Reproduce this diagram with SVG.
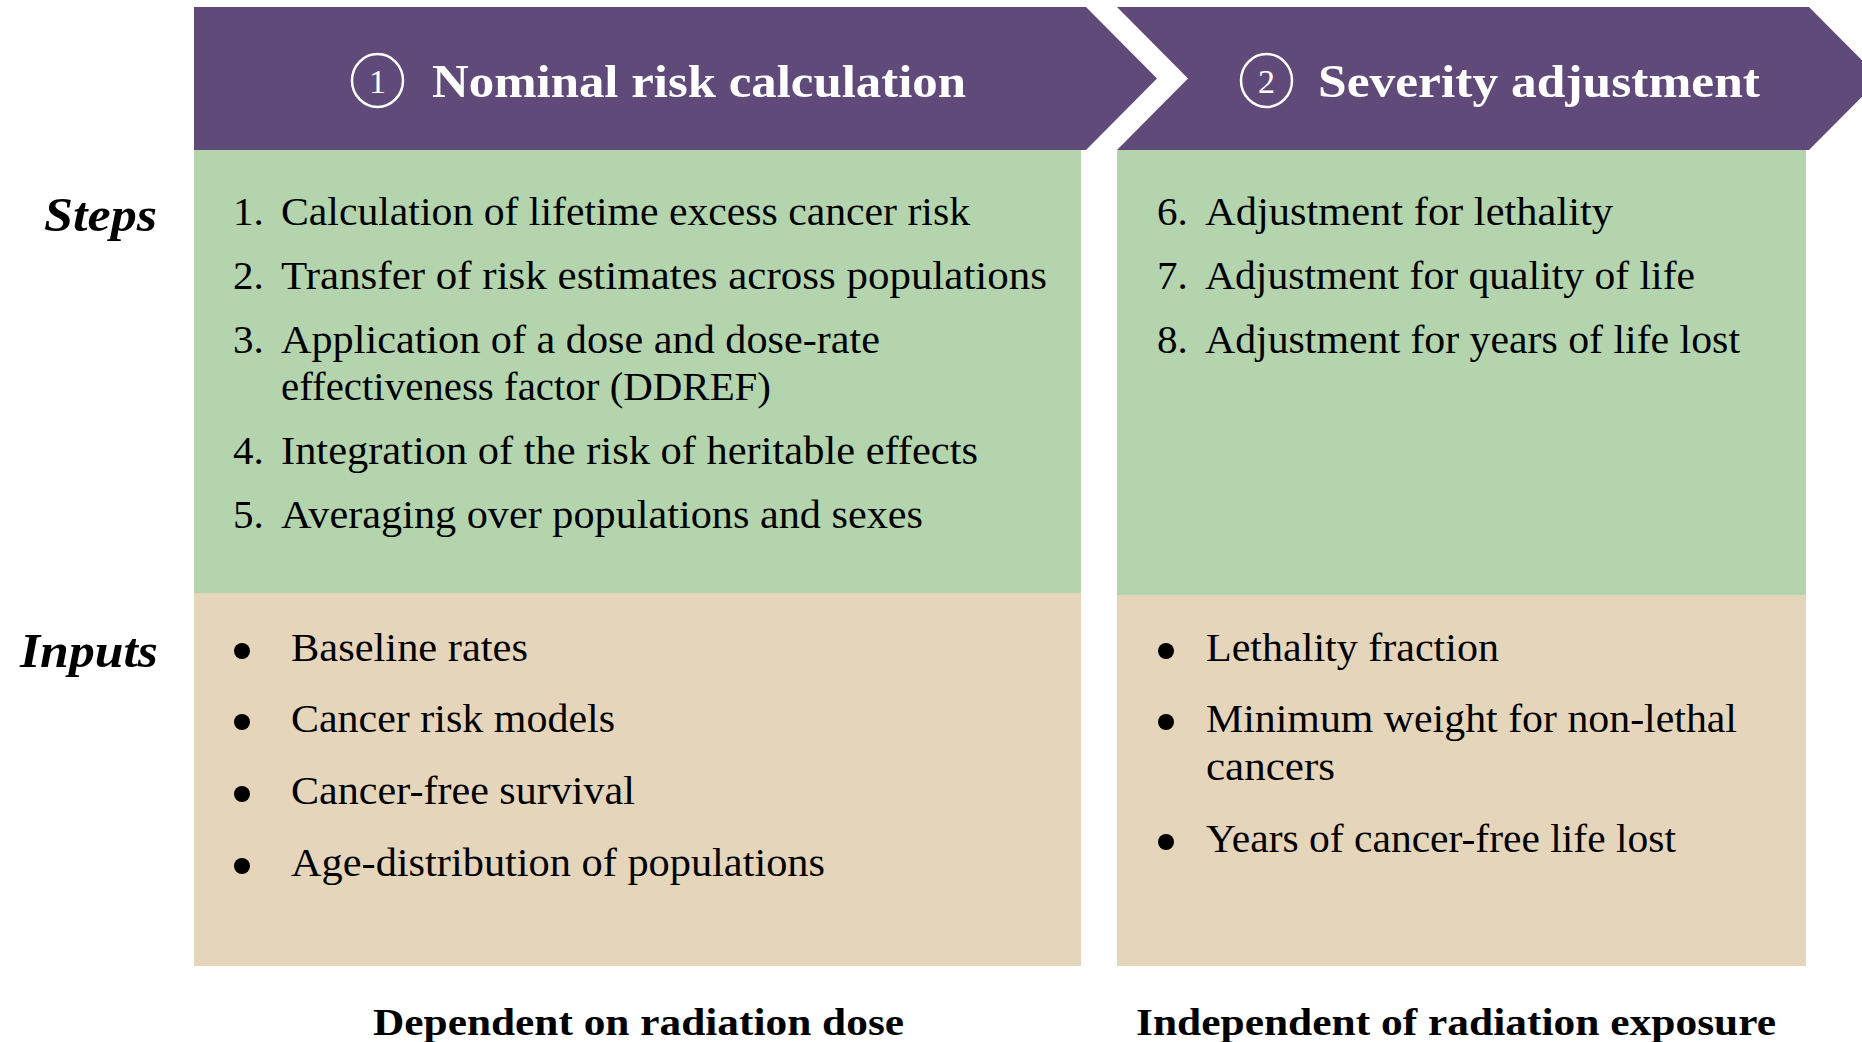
<svg xmlns="http://www.w3.org/2000/svg" width="1862" height="1042" viewBox="0 0 1862 1042">
  <style>
    .hdr { fill: #5F4A7A; }
    .steps { fill: #B3D4AD; }
    .inputs { fill: #E5D5BB; }
    .htxt { font-family: "Liberation Serif", "DejaVu Serif", serif; font-weight: bold; font-size: 46px; fill: #FFFFFF; }
    .hnum { font-family: "Liberation Serif", "DejaVu Serif", serif; font-size: 34px; fill: #FFFFFF; text-anchor: middle; }
    .ring { fill: none; stroke: #FFFFFF; stroke-width: 2.5; }
    .side { font-family: "Liberation Serif", "DejaVu Serif", serif; font-weight: bold; font-style: italic; font-size: 48px; fill: #000000; }
    .body { font-family: "Liberation Serif", "DejaVu Serif", serif; font-size: 41px; fill: #000000; }
    .item { font-family: "Liberation Serif", "DejaVu Serif", serif; font-size: 39px; fill: #000000; }
    .foot { font-family: "Liberation Serif", "DejaVu Serif", serif; font-weight: bold; font-size: 37px; fill: #000000; }
    .dot { fill: #000000; }
  </style>

  <rect width="1862" height="1042" fill="#FFFFFF"/>

  <!-- Phase 1 header chevron -->
  <g id="header-nominal">
    <polygon class="hdr" points="194,7 1086,7 1157,78.5 1086,150 194,150"/>
    <ellipse class="ring" cx="377.5" cy="80.5" rx="25.5" ry="26.5"/>
    <text class="hnum" x="377.5" y="93">1</text>
    <text class="htxt" x="432" y="97" textLength="534" lengthAdjust="spacingAndGlyphs">Nominal risk calculation</text>
  </g>

  <!-- Phase 2 header chevron -->
  <g id="header-severity">
    <polygon class="hdr" points="1117,7 1809,7 1880,78.5 1809,150 1117,150 1188,78.5"/>
    <ellipse class="ring" cx="1266.5" cy="80.5" rx="25.5" ry="26.5"/>
    <text class="hnum" x="1266.5" y="93">2</text>
    <text class="htxt" x="1318" y="97" textLength="442" lengthAdjust="spacingAndGlyphs">Severity adjustment</text>
  </g>

  <!-- Row labels -->
  <g id="label-steps">
    <text class="side" x="44" y="231" textLength="113" lengthAdjust="spacingAndGlyphs">Steps</text>
  </g>
  <g id="label-inputs">
    <text class="side" x="20" y="667" textLength="138" lengthAdjust="spacingAndGlyphs">Inputs</text>
  </g>

  <!-- Steps of phase 1 -->
  <g id="steps-nominal">
    <rect class="steps" x="194" y="150" width="887" height="443"/>
    <text class="body" x="233" y="225">1.</text>
    <text class="body" x="281" y="225" textLength="689" lengthAdjust="spacingAndGlyphs">Calculation of lifetime excess cancer risk</text>
    <text class="body" x="233" y="289">2.</text>
    <text class="body" x="281" y="289" textLength="766" lengthAdjust="spacingAndGlyphs">Transfer of risk estimates across populations</text>
    <text class="body" x="233" y="353">3.</text>
    <text class="body" x="281" y="353" textLength="599" lengthAdjust="spacingAndGlyphs">Application of a dose and dose-rate</text>
    <text class="body" x="281" y="400" textLength="490" lengthAdjust="spacingAndGlyphs">effectiveness factor (DDREF)</text>
    <text class="body" x="233" y="464">4.</text>
    <text class="body" x="281" y="464" textLength="697" lengthAdjust="spacingAndGlyphs">Integration of the risk of heritable effects</text>
    <text class="body" x="233" y="528">5.</text>
    <text class="body" x="281" y="528" textLength="642" lengthAdjust="spacingAndGlyphs">Averaging over populations and sexes</text>
  </g>

  <!-- Steps of phase 2 -->
  <g id="steps-severity">
    <rect class="steps" x="1117" y="150" width="689" height="445"/>
    <text class="body" x="1157" y="225">6.</text>
    <text class="body" x="1205" y="225" textLength="408" lengthAdjust="spacingAndGlyphs">Adjustment for lethality</text>
    <text class="body" x="1157" y="289">7.</text>
    <text class="body" x="1205" y="289" textLength="490" lengthAdjust="spacingAndGlyphs">Adjustment for quality of life</text>
    <text class="body" x="1157" y="353">8.</text>
    <text class="body" x="1205" y="353" textLength="535" lengthAdjust="spacingAndGlyphs">Adjustment for years of life lost</text>
  </g>

  <!-- Inputs of phase 1 -->
  <g id="inputs-nominal">
    <rect class="inputs" x="194" y="593" width="887" height="373"/>
    <circle class="dot" cx="242" cy="651" r="8"/>
    <text class="item" x="291" y="661" textLength="237" lengthAdjust="spacingAndGlyphs">Baseline rates</text>
    <circle class="dot" cx="242" cy="722" r="8"/>
    <text class="item" x="291" y="732" textLength="324" lengthAdjust="spacingAndGlyphs">Cancer risk models</text>
    <circle class="dot" cx="242" cy="794" r="8"/>
    <text class="item" x="291" y="804" textLength="344" lengthAdjust="spacingAndGlyphs">Cancer-free survival</text>
    <circle class="dot" cx="242" cy="866" r="8"/>
    <text class="item" x="291" y="876" textLength="534" lengthAdjust="spacingAndGlyphs">Age-distribution of populations</text>
  </g>

  <!-- Inputs of phase 2 -->
  <g id="inputs-severity">
    <rect class="inputs" x="1117" y="595" width="689" height="371"/>
    <circle class="dot" cx="1166" cy="651" r="8"/>
    <text class="item" x="1206" y="661" textLength="293" lengthAdjust="spacingAndGlyphs">Lethality fraction</text>
    <circle class="dot" cx="1166" cy="722" r="8"/>
    <text class="item" x="1206" y="732" textLength="531" lengthAdjust="spacingAndGlyphs">Minimum weight for non-lethal</text>
    <text class="item" x="1206" y="780" textLength="129" lengthAdjust="spacingAndGlyphs">cancers</text>
    <circle class="dot" cx="1166" cy="842" r="8"/>
    <text class="item" x="1206" y="852" textLength="470" lengthAdjust="spacingAndGlyphs">Years of cancer-free life lost</text>
  </g>

  <!-- Column footers -->
  <g id="footer-dependent">
    <text class="foot" x="373" y="1035" textLength="531" lengthAdjust="spacingAndGlyphs">Dependent on radiation dose</text>
  </g>
  <g id="footer-independent">
    <text class="foot" x="1136" y="1035" textLength="640" lengthAdjust="spacingAndGlyphs">Independent of radiation exposure</text>
  </g>

  <g id="connectors"/>
</svg>
